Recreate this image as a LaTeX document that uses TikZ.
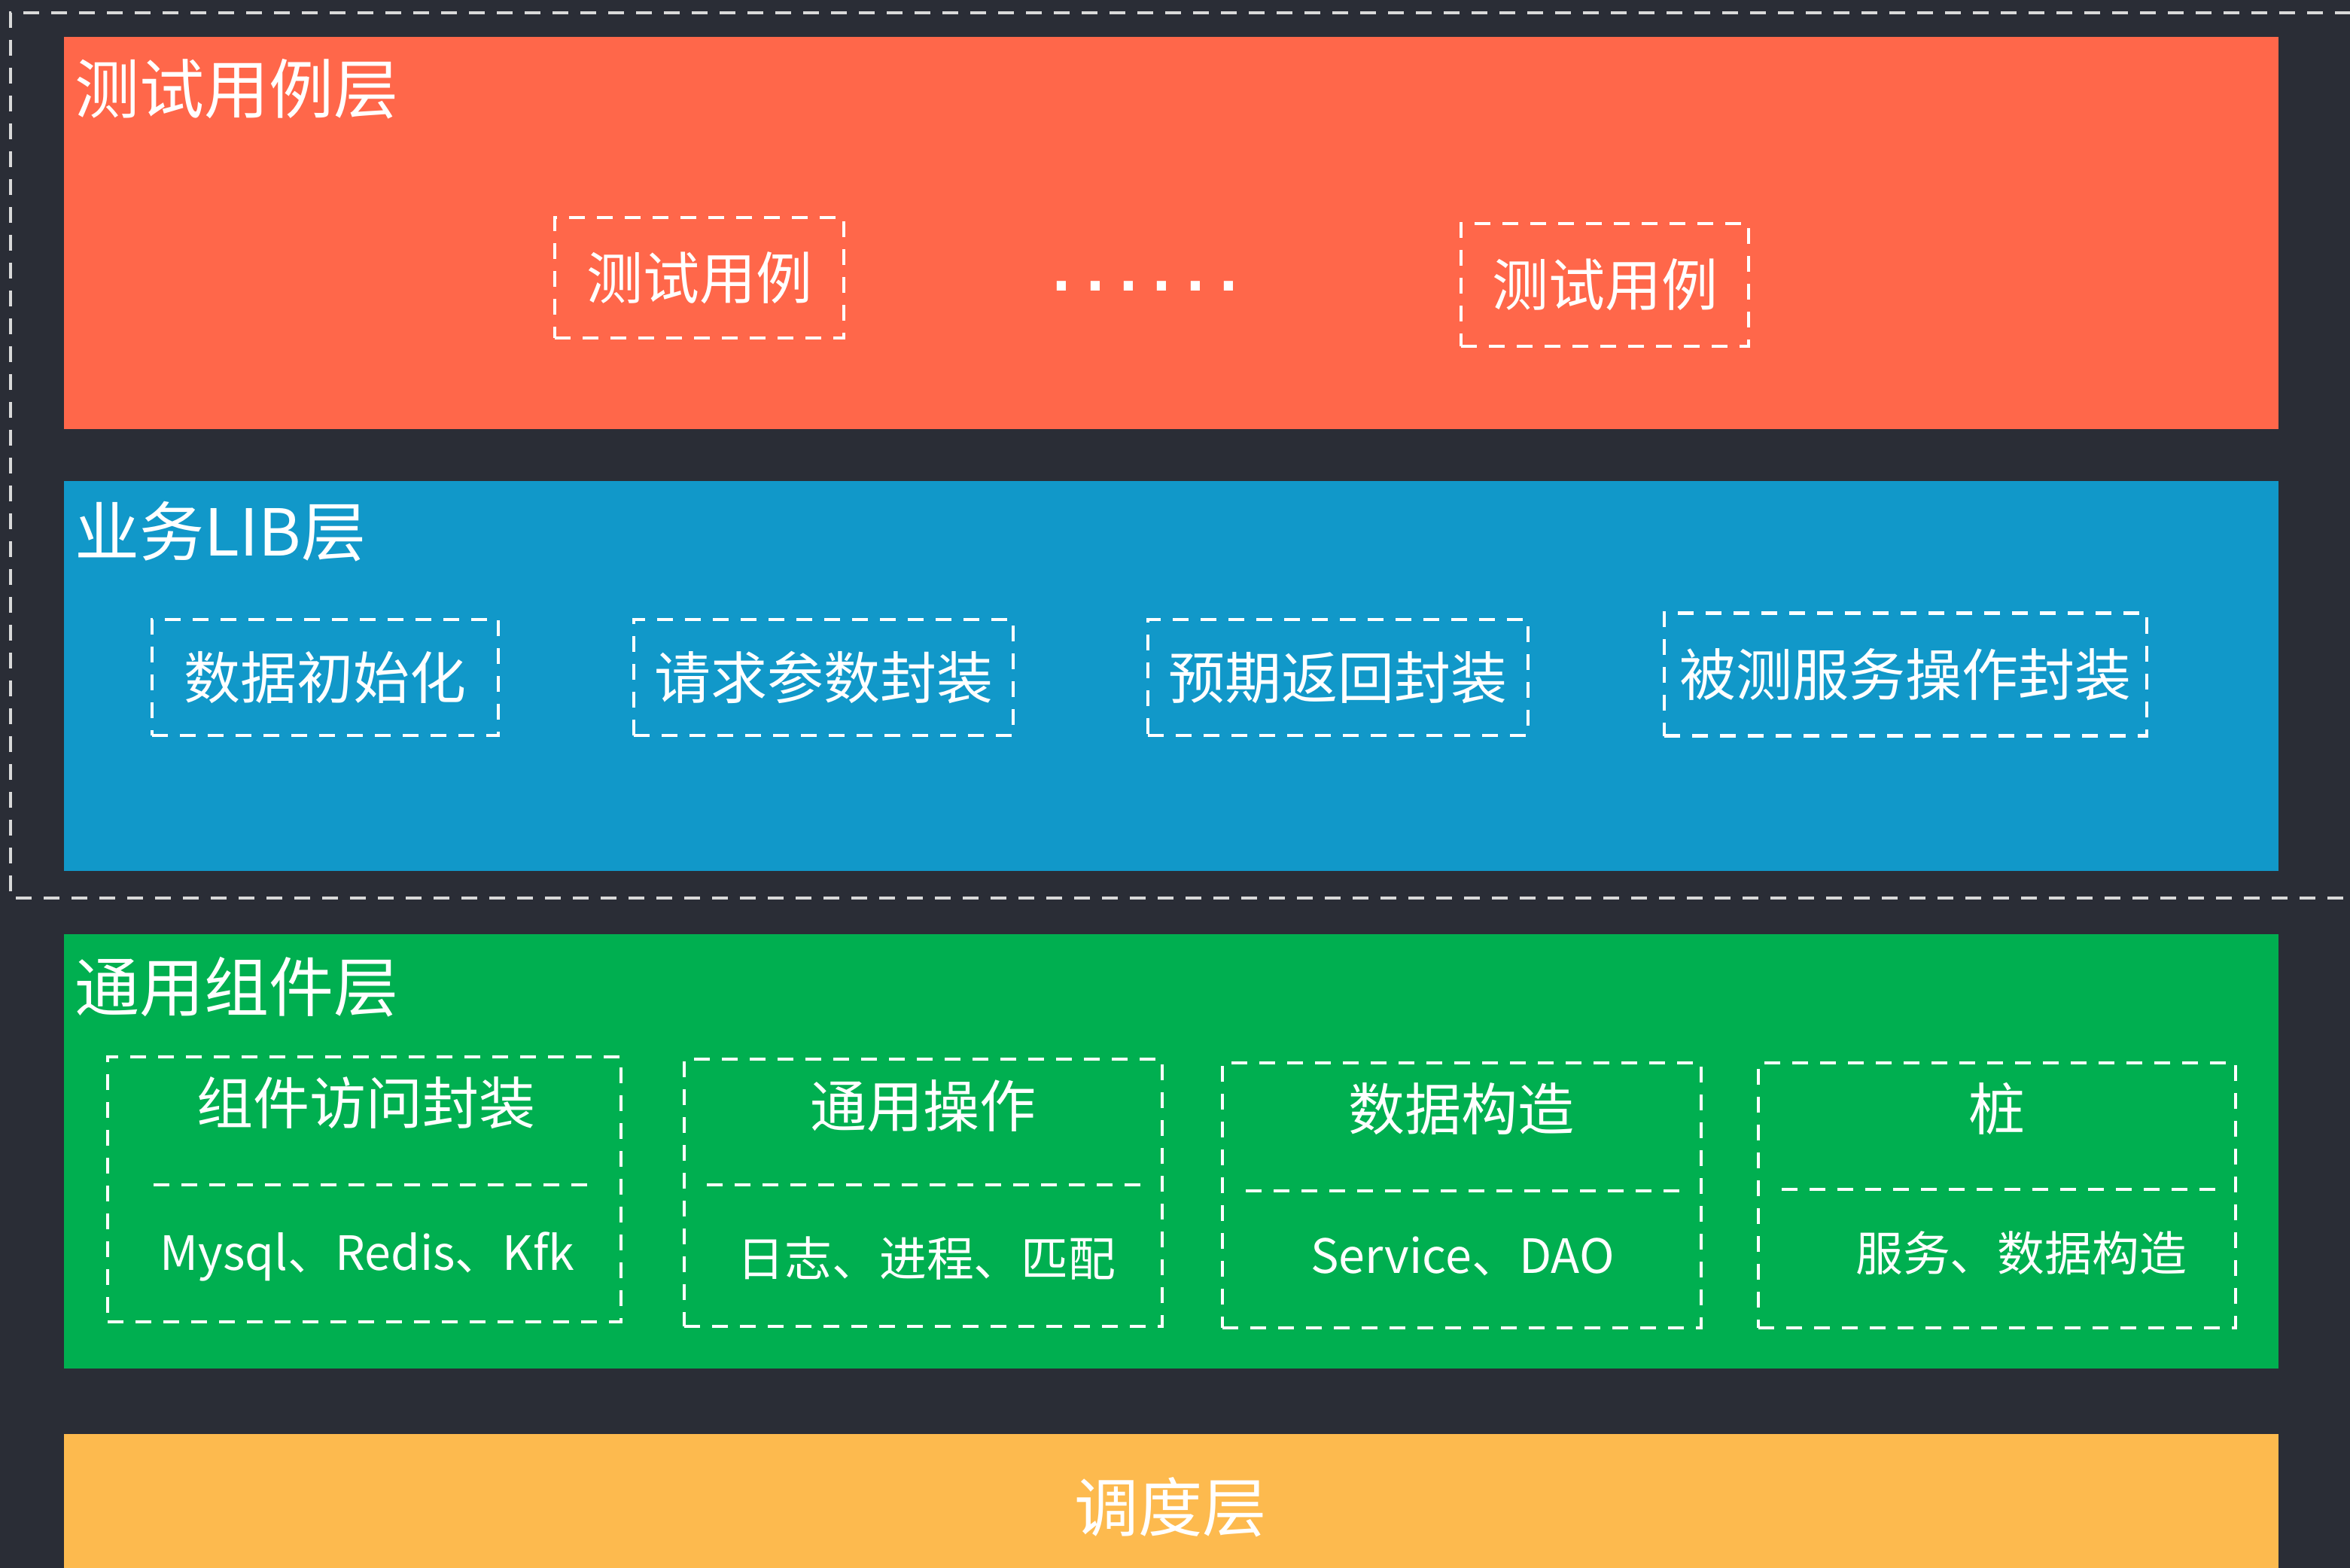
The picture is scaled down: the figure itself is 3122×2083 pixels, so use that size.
\documentclass[tikz,border=0pt]{standalone}
\usepackage{fontspec}
\newfontfamily\cjk{Noto Sans CJK SC}
\newfontfamily\dotfont{Liberation Sans}
\definecolor{bgdark}{HTML}{2A2D36}
\definecolor{layerorange}{HTML}{FF674A}
\definecolor{layerblue}{HTML}{1198C9}
\definecolor{layergreen}{HTML}{00AF50}
\definecolor{layeryellow}{HTML}{FDBA4E}
\definecolor{outerline}{HTML}{D9D9D9}
\tikzset{
  layer/.style={rectangle, inner sep=0pt, outer sep=0pt, minimum width=735.5pt},
  dbox/.style={rectangle, draw=white, line width=1.15pt, dash pattern=on 5.25pt off 4pt,
    inner sep=0pt, outer sep=0pt, text=white, font=\cjk\fontsize{18.75pt}{21pt}\selectfont},
  divline/.style={draw=white, line width=1.15pt, dash pattern=on 5.25pt off 4pt},
  outerdash/.style={draw=outerline, line width=0.95pt, dash pattern=on 5.25pt off 4pt},
  layertitle/.style={text=white, anchor=west, inner sep=0pt, font=\cjk\fontsize{21.5pt}{24pt}\selectfont},
  boxtxt/.style={text=white, inner sep=0pt, font=\cjk\fontsize{18.75pt}{21pt}\selectfont},
  subtxt/.style={text=white, inner sep=0pt, font=\cjk\fontsize{15.7pt}{18pt}\selectfont},
  dotstxt/.style={text=white, inner sep=0pt, font=\dotfont\bfseries\fontsize{21.5pt}{24pt}\selectfont}
}
\begin{document}
\begin{tikzpicture}[x=0.25pt, y=-0.25pt]
  % page and background
  \useasboundingbox (0,0) rectangle (3122,2083);
  \clip (0,0) rectangle (3122,2083);
  \fill[bgdark] (0,0) rectangle (3122,2083);

  % layers
  \node[layer, fill=layerorange, minimum height=130.25pt] (L1) at (1556,309.5) {};
  \node[layer, fill=layerblue,   minimum height=129.5pt]  (L2) at (1556,898) {};
  \node[layer, fill=layergreen,  minimum height=144.25pt] (L3) at (1556,1529.5) {};
  \node[layer, fill=layeryellow, minimum height=55pt]     (L4) at (1556,2015) {};

  % outer dashed frame (open on the right, beyond the page)
  \coordinate (OTR) at (3160,17);
  \coordinate (OTL) at (14,17);
  \coordinate (OBL) at (14,1193);
  \coordinate (OBR) at (3160,1193);
  \draw[outerdash] (OTR) -- (OTL) -- (OBL) -- (OBR);

  % layer titles
  \node[layertitle] (T1) at (99,118.5) {测试用例层};
  \node[layertitle] (T2) at (99,706) {业务LIB层};
  \node[layertitle] (T3) at (99,1311.5) {通用组件层};
  \node[text=white, inner sep=0pt, font=\cjk\fontsize{21.3pt}{24pt}\selectfont] (T4) at (1555,2002) {调度层};

  % test case layer
  \node[dbox, minimum width=96pt, minimum height=40pt] (tc1) at (929,369) {测试用例};
  \node[dbox, minimum width=95.5pt, minimum height=40.75pt] (tc2) at (2132,378.5) {测试用例};
  \node[dotstxt] (dots) at (1521.5,380) {.\hspace{5.1pt}.\hspace{5.1pt}.\hspace{5.1pt}.\hspace{5.1pt}.\hspace{5.1pt}.};

  % business LIB layer
  \node[dbox, minimum width=115pt, minimum height=38.5pt] (b1) at (432,900) {数据初始化};
  \node[dbox, minimum width=126pt, minimum height=38.5pt] (b2) at (1094,900) {请求参数封装};
  \node[dbox, minimum width=126.25pt, minimum height=38.5pt] (b3) at (1777.5,900) {预期返回封装};
  \node[dbox, minimum width=160.25pt, minimum height=40.75pt] (b4) at (2531.5,896) {被测服务操作封装};

  % common component layer
  \node[dbox, minimum width=170.5pt, minimum height=88pt] (g1) at (484,1580) {};
  \node[dbox, minimum width=158.75pt, minimum height=88.75pt] (g2) at (1226.5,1584.5) {};
  \node[dbox, minimum width=159pt, minimum height=88pt] (g3) at (1942,1588) {};
  \node[dbox, minimum width=158.5pt, minimum height=88pt] (g4) at (2653,1588) {};

  \coordinate (g1dl) at (204,1574);  \coordinate (g1dr) at (784,1574);
  \coordinate (g2dl) at (939,1574);  \coordinate (g2dr) at (1521,1574);
  \coordinate (g3dl) at (1655,1582); \coordinate (g3dr) at (2234,1582);
  \coordinate (g4dl) at (2367,1580); \coordinate (g4dr) at (2946,1580);
  \draw[divline] (g1dl) -- (g1dr);
  \draw[divline] (g2dl) -- (g2dr);
  \draw[divline] (g3dl) -- (g3dr);
  \draw[divline] (g4dl) -- (g4dr);

  \node[boxtxt] (g1t) at (486,1465) {组件访问封装};
  \node[subtxt] (g1s) at (488,1669) {Mysql、Redis、Kfk};
  \node[boxtxt] (g2t) at (1226,1469) {通用操作};
  \node[subtxt] (g2s) at (1231,1672) {日志、进程、匹配};
  \node[boxtxt] (g3t) at (1941,1473) {数据构造};
  \node[subtxt] (g3s) at (1943,1669) {Service、DAO};
  \node[boxtxt] (g4t) at (2653,1473) {桩};
  \node[subtxt] (g4s) at (2685,1665) {服务、数据构造};
\end{tikzpicture}
\end{document}
